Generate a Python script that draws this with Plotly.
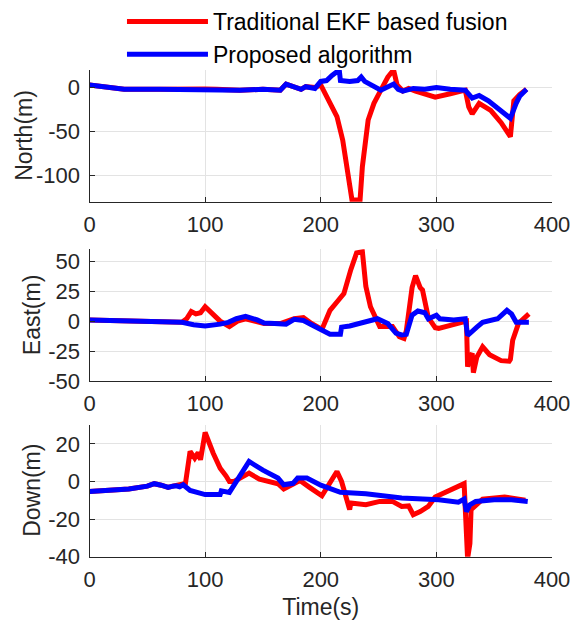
import plotly.graph_objects as go

# ---------------- data ----------------
t_north_ekf = [0, 15, 30, 60, 90, 100, 110, 130, 150, 165, 170, 177, 183, 187, 195, 200, 205, 210, 214, 219, 224, 227, 234, 236, 241, 246, 252, 258, 263, 266, 271, 276, 282, 290, 299, 312, 325, 328, 331, 337, 347, 356, 364, 367, 372, 378]
north_ekf = [3, 0, -2, -2, -1, -1.5, -2, -3, -2, -3, 4, 0, -2, 1, 0, 3, -11, -22, -33, -60, -105, -128, -128, -90, -37, -18, -3, 12, 20, 3, -4, -1, -4, -8, -11, -7, -3, -22, -30, -18, -26, -40, -56, -15, -8, -2]

t_north_prop = [0, 15, 30, 60, 100, 130, 150, 165, 170, 177, 183, 187, 195, 200, 205, 210, 216, 217, 225, 232, 235, 238, 245, 252, 263, 267, 271, 280, 290, 300, 312, 325, 331, 337, 345, 355, 364, 369, 372, 378]
north_prop = [3, 0, -2, -2, -3, -3, -2, -3, 4, 0, -2, 1, -1, 7, 8, 14, 20, 8, 7, 8, 12, 7, 2, -3, 4, -2, -4, -1, -2, 0, -2, -3, -12, -9, -15, -25, -35, -18, -10, -2]

t_east_ekf = [0, 40, 80, 84, 88, 92, 96, 100, 107, 113, 121, 128, 135, 145, 151, 165, 177, 185, 192, 201, 208, 214, 220, 226, 231, 236, 239, 243, 251, 262, 268, 272, 274, 279, 282, 286, 288, 293, 299, 302, 321, 326, 327, 329, 331, 332, 335, 340, 346, 356, 363, 364, 366, 371, 380]
east_ekf = [1, 0, -1, 2, 8, 6, 7, 12, 5, 0, -4.5, 0, 2, 0, -2, -2, 2, 3, -2, -7, 9, 16, 23, 43, 57, 58, 29, 12, -4.5, -4.5, -13, -14.5, -8, 28, 38, 28, 26, 3, -5.5, -6, -2, 0, -38, -30, -27, -43, -30, -21.5, -28, -33, -33.5, -32, -16, -2, 6]

t_east_prop = [0, 40, 80, 90, 100, 113, 120, 127, 135, 145, 151, 160, 170, 177, 185, 192, 200, 208, 217, 218, 225, 232, 239, 249, 258, 265, 270, 274, 279, 284, 290, 293, 300, 303, 315, 325, 327, 331, 335, 340, 353, 361, 365, 369, 375, 380]
east_prop = [1, 0, -1, -3, -4, -2.5, -1, 2, 4, 1, -1.5, -2, -2.5, 1.5, 0.5, -3, -7.6, -11, -11, -5, -4, -2, -1, 2, -2, -10, -11.5, -11, 5, 8.5, 7, 2, 5, 2, 1, 2, -12, -8, -5, -1, 2, 9, 6, -1, -1, -1]

t_down_ekf = [0, 34, 50, 56, 62, 68, 72, 75, 80, 83, 87, 91, 94, 96, 100, 107, 113, 118, 121, 125, 138, 147, 163, 168, 175, 182, 190, 201, 214, 218, 225, 226, 239, 251, 262, 270, 276, 280, 286, 293, 299, 324, 327, 329, 330, 334, 340, 359, 377]
down_ekf = [-5.3, -4, -2.5, -1.2, -2, -3.2, -2.5, -2.3, -1.5, -1, 16, 12.4, 15.4, 11.5, 26, 15, 7, 3, 0, 0, 4.4, 1.2, -1.2, -4, -2, 0.5, -3, -7.6, 5.3, 0, -15, -11.5, -12.4, -10.6, -10.6, -13.3, -13, -17.7, -16, -13.3, -8.3, -1.2, -41, -33, -15, -12.4, -9.4, -8.3, -10]

t_down_prop = [0, 34, 50, 56, 62, 68, 72, 75, 78, 81, 87, 95, 100, 113, 114, 121, 125, 138, 150, 163, 168, 176, 180, 188, 200, 217, 239, 264, 270, 302, 319, 324, 326, 329, 334, 350, 365, 379]
down_prop = [-5.3, -4, -2.5, -1.2, -2, -3.2, -2.5, -2.3, -2.8, -1.8, -4.8, -6, -7, -7, -5, -5.8, -1.8, 10.6, 6, 1.8, -1.8, -1, 1.8, 1.8, -2, -5.8, -6.5, -8.3, -8.8, -9.7, -11, -9.4, -16, -12.4, -10.6, -9.7, -9.7, -10.6]

x_ticks = [0, 100, 200, 300, 400]
north_ticks = [-100, -50, 0]
east_ticks = [-50, -25, 0, 25, 50]
down_ticks = [-40, -20, 0, 20]

series_names = ["Traditional EKF based fusion", "Proposed algorithm"]
y_titles = ["North(m)", "East(m)", "Down(m)"]
x_title = "Time(s)"
# ---------------------------------------

RED = "#ff0000"
BLUE = "#0000ff"
LW = 5
FONT = "Liberation Sans, Arial, Helvetica, sans-serif"
AX = "#262626"
GRID = "#e3e3e3"

fig = go.Figure()

panels = [
    ("x", "y", t_north_ekf, north_ekf, t_north_prop, north_prop),
    ("x2", "y2", t_east_ekf, east_ekf, t_east_prop, east_prop),
    ("x3", "y3", t_down_ekf, down_ekf, t_down_prop, down_prop),
]
for i, (xa, ya, te, ve, tp, vp) in enumerate(panels):
    fig.add_trace(go.Scatter(x=te, y=ve, mode="lines", name=series_names[0],
                             line=dict(color=RED, width=LW), xaxis=xa, yaxis=ya,
                             showlegend=(i == 0), legendrank=1))
    fig.add_trace(go.Scatter(x=tp, y=vp, mode="lines", name=series_names[1],
                             line=dict(color=BLUE, width=LW), xaxis=xa, yaxis=ya,
                             showlegend=(i == 0), legendrank=2))

W, H = 574, 620
xdom = [89.5 / W, 552 / W]

def ydom(top, bottom):
    return [1 - bottom / H, 1 - top / H]

doms = [ydom(70, 201.7), ydom(249.3, 381), ydom(425, 556.7)]

TICKFONT = dict(size=22, color=AX, family=FONT)
TITLEFONT = dict(size=23, color=AX, family=FONT)

def labels(vals):
    return [str(v) for v in vals]

common_x = dict(range=[0, 400], tickvals=x_ticks, ticktext=labels(x_ticks), domain=xdom, showline=True,
                linecolor=AX, linewidth=1, ticks="inside", ticklen=5, tickcolor=AX,
                showgrid=True, gridcolor=GRID, gridwidth=1, zeroline=False,
                tickfont=TICKFONT, ticklabelstandoff=3, mirror=False, automargin=False)
common_y = dict(showline=True, linecolor=AX, linewidth=1, ticks="inside", ticklen=5,
                tickcolor=AX, showgrid=True, gridcolor=GRID, gridwidth=1,
                zeroline=False, tickfont=TICKFONT, ticklabelstandoff=4, mirror=False,
                automargin=False)

# y-axis titles as rotated paper annotations
title_x = [24, 32, 32]
annotations = []
for txt, dom, tx in zip(y_titles, doms, title_x):
    annotations.append(dict(text=txt, xref="paper", yref="paper", x=tx / W, y=(dom[0] + dom[1]) / 2,
                            xanchor="center", yanchor="middle", textangle=-90, showarrow=False,
                            font=TITLEFONT))

fig.update_layout(
    width=W, height=H,
    margin=dict(l=0, r=0, t=0, b=0, autoexpand=False),
    paper_bgcolor="white", plot_bgcolor="white",
    font=dict(family=FONT, color=AX),
    xaxis=dict(common_x, anchor="y"),
    xaxis2=dict(common_x, anchor="y2"),
    xaxis3=dict(common_x, anchor="y3", title=dict(text=x_title, font=TITLEFONT, standoff=8)),
    yaxis=dict(common_y, anchor="x", domain=doms[0], range=[-130, 20],
               tickvals=north_ticks, ticktext=labels(north_ticks)),
    yaxis2=dict(common_y, anchor="x2", domain=doms[1], range=[-50, 60],
                tickvals=east_ticks, ticktext=labels(east_ticks)),
    yaxis3=dict(common_y, anchor="x3", domain=doms[2], range=[-40, 30],
                tickvals=down_ticks, ticktext=labels(down_ticks)),
    annotations=annotations,
    legend=dict(x=0.2125, y=1.0, xanchor="left", yanchor="top",
                font=dict(size=23, color="black", family=FONT),
                bgcolor="rgba(0,0,0,0)", borderwidth=0, itemwidth=81,
                tracegroupgap=0),
    showlegend=True,
)

fig.write_html("out.html", config={"displayModeBar": False},
               post_script="document.body.style.margin='0px';document.body.style.overflow='hidden';")
